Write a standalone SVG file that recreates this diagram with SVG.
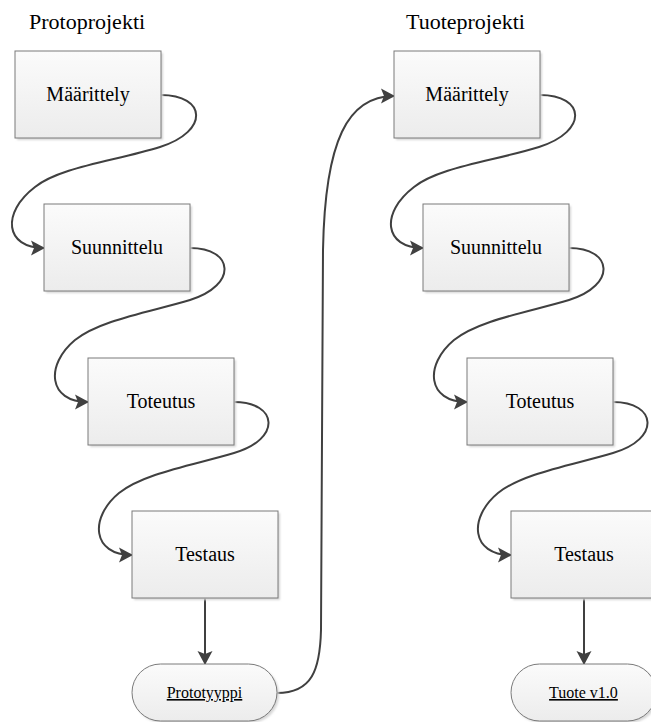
<svg xmlns="http://www.w3.org/2000/svg" width="651" height="722" viewBox="0 0 651 722">
<defs>
<linearGradient id="g" x1="0" y1="0" x2="0" y2="1">
<stop offset="0" stop-color="#fbfbfb"/>
<stop offset="1" stop-color="#ececec"/>
</linearGradient>
<filter id="sh" x="-10%" y="-10%" width="130%" height="130%">
<feGaussianBlur stdDeviation="0.8"/>
</filter>
<marker id="arr" markerUnits="userSpaceOnUse" markerWidth="16" markerHeight="18" refX="13" refY="8" orient="auto">
<path d="M0,0.5 L14,8 L0,15.5 L3,8 Z" fill="#404040"/>
</marker>
</defs>
<style>
.box{fill:url(#g);stroke:#7a7a7a;stroke-width:1}
.shadow{fill:#d6d6d6;filter:url(#sh)}
.lbl{font-family:"Liberation Serif","Times New Roman",serif;font-size:20px;fill:#000;text-anchor:middle}
.term{font-family:"Liberation Serif","Times New Roman",serif;font-size:16px;fill:#000;text-anchor:middle;text-decoration:underline}
.title{font-family:"Liberation Serif","Times New Roman",serif;font-size:22px;fill:#000}
.c{fill:none;stroke:#404040;stroke-width:2}
</style>
<rect width="651" height="722" fill="#fff"/>
<text class="title" x="29" y="29">Protoprojekti</text>
<text class="title" x="406" y="29">Tuoteprojekti</text>

<g id="connectors">
<path class="c" marker-end="url(#arr)" d="M161,95 C206,95 210,131 160,147 C115,161 60,167 35,187 C1,213 5,248 44,248"/>
<path class="c" marker-end="url(#arr)" d="M190,248 C234,248 238,285 190,300 C150,312 100,320 75,340 C45,365 48,402 88,402"/>
<path class="c" marker-end="url(#arr)" d="M234,402 C278,402 282,439 234,453 C194,465 144,473 119,493 C89,518 92,555 132,555"/>
<path class="c" marker-end="url(#arr)" d="M205,598 L205,664"/>
<path class="c" marker-end="url(#arr)" d="M277,693 C312,693 320,670 321,630 L323,250 C325,140 348,96 394,96"/>
<path class="c" marker-end="url(#arr)" d="M540,95 C585,95 589,131 539,147 C494,161 439,167 414,187 C380,213 384,248 423,248"/>
<path class="c" marker-end="url(#arr)" d="M569,248 C613,248 617,285 569,300 C529,312 479,320 454,340 C424,365 427,402 467,402"/>
<path class="c" marker-end="url(#arr)" d="M613,402 C657,402 661,439 613,453 C573,465 523,473 498,493 C468,518 471,555 511,555"/>
<path class="c" marker-end="url(#arr)" d="M584,598 L584,664"/>
</g>

<g id="p-maarittely">
<rect class="shadow" x="17" y="53" width="146" height="87"/>
<rect class="box" x="15" y="51" width="146" height="87"/>
<text class="lbl" x="88" y="101">Määrittely</text>
</g>
<g id="p-suunnittelu">
<rect class="shadow" x="46" y="206" width="146" height="87"/>
<rect class="box" x="44" y="204" width="146" height="87"/>
<text class="lbl" x="117" y="254">Suunnittelu</text>
</g>
<g id="p-toteutus">
<rect class="shadow" x="90" y="360" width="146" height="87"/>
<rect class="box" x="88" y="358" width="146" height="87"/>
<text class="lbl" x="161" y="408">Toteutus</text>
</g>
<g id="p-testaus">
<rect class="shadow" x="134" y="513" width="146" height="87"/>
<rect class="box" x="132" y="511" width="146" height="87"/>
<text class="lbl" x="205" y="561">Testaus</text>
</g>
<g id="prototyyppi">
<rect class="shadow" x="134" y="666" width="145" height="57" rx="28.5"/>
<rect class="box" x="132" y="664" width="145" height="57" rx="28.5"/>
<text class="term" x="204.5" y="698">Prototyyppi</text>
</g>

<g id="t-maarittely">
<rect class="shadow" x="396" y="53" width="146" height="87"/>
<rect class="box" x="394" y="51" width="146" height="87"/>
<text class="lbl" x="467" y="101">Määrittely</text>
</g>
<g id="t-suunnittelu">
<rect class="shadow" x="425" y="206" width="146" height="87"/>
<rect class="box" x="423" y="204" width="146" height="87"/>
<text class="lbl" x="496" y="254">Suunnittelu</text>
</g>
<g id="t-toteutus">
<rect class="shadow" x="469" y="360" width="146" height="87"/>
<rect class="box" x="467" y="358" width="146" height="87"/>
<text class="lbl" x="540" y="408">Toteutus</text>
</g>
<g id="t-testaus">
<rect class="shadow" x="513" y="513" width="146" height="87"/>
<rect class="box" x="511" y="511" width="146" height="87"/>
<text class="lbl" x="584" y="561">Testaus</text>
</g>
<g id="tuote">
<rect class="shadow" x="513" y="666" width="145" height="57" rx="28.5"/>
<rect class="box" x="511" y="664" width="145" height="57" rx="28.5"/>
<text class="term" x="583.5" y="698">Tuote v1.0</text>
</g>
</svg>
